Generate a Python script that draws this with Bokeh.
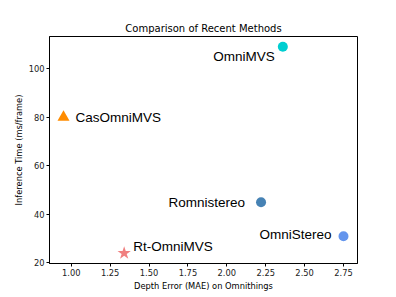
from bokeh.plotting import figure
from bokeh.models import ColumnDataSource, FixedTicker, Range1d, NumeralTickFormatter
from bokeh.core.properties import value
from bokeh.embed import file_html
from bokeh.resources import INLINE

# data
methods = ["OmniMVS", "CasOmniMVS", "Romnistereo", "OmniStereo", "Rt-OmniMVS"]
depth_error = [2.36, 0.95, 2.22, 2.75, 1.34]
inference_time = [109, 80, 45, 31, 24]
x_ticks = [1.00, 1.25, 1.50, 1.75, 2.00, 2.25, 2.50, 2.75]
y_ticks = [20, 40, 60, 80, 100]

# styles
colors = ["#00CED1", "#FF8C00", "#4682B4", "#6495ED", "#F08080"]
markers = ["circle", "triangle", "circle", "circle", "star"]
sizes = [10, 12, 10, 10, 14]
label_align = ["right", "left", "right", "right", "left"]
label_dx = [-8, 12, -16, -12, 9]
label_dy = [10, 0, 0, -2, -7]

src = ColumnDataSource(dict(x=depth_error, y=inference_time, name=methods, color=colors,
                            marker=markers, size=sizes, align=label_align,
                            dx=label_dx, dy=label_dy))

p = figure(frame_width=308, frame_height=227, output_backend="svg", toolbar_location=None,
           x_range=Range1d(0.86, 2.84), y_range=Range1d(19.75, 113.25),
           title="Comparison of Recent Methods",
           min_border_left=49, min_border_right=39, min_border_top=36, min_border_bottom=34)

p.scatter("x", "y", source=src, marker="marker", size="size", fill_color="color",
          line_color="color", line_width=0)
p.text("x", "y", text="name", source=src, x_offset="dx", y_offset="dy",
       text_align="align", text_baseline="middle", text_font=value("Liberation Sans"),
       text_font_size="13.5px", text_color="black")

p.title.align = "center"
p.title.text_font = "DejaVu Sans"
p.title.text_font_size = "10px"
p.title.text_font_style = "normal"
p.title.text_color = "black"
p.title.standoff = 6

p.xaxis.axis_label = "Depth Error (MAE) on Omnithings"
p.yaxis.axis_label = "Inference Time (ms/frame)"
p.xaxis.ticker = FixedTicker(ticks=x_ticks)
p.yaxis.ticker = FixedTicker(ticks=y_ticks)
p.xaxis.formatter = NumeralTickFormatter(format="0.00")
for ax in (p.xaxis, p.yaxis):
    ax.axis_label_text_font = "DejaVu Sans"
    ax.axis_label_text_font_size = "8.3px"
    ax.axis_label_text_font_style = "normal"
    ax.axis_label_text_color = "black"
    ax.axis_label_text_line_height = 1.0
    ax.major_label_text_font = "DejaVu Sans"
    ax.major_label_text_font_size = "8.3px"
    ax.major_label_text_color = "#222222"
    ax.major_label_text_line_height = 1.0
    ax.minor_tick_line_color = None
    ax.major_tick_out = 3
    ax.major_tick_in = 0
    ax.major_label_standoff = 2
    ax.axis_label_standoff = 2
    ax.axis_line_color = "black"
    ax.major_tick_line_color = "black"

p.xgrid.grid_line_color = None
p.ygrid.grid_line_color = None
p.outline_line_color = "black"
p.outline_line_width = 1
p.background_fill_color = "white"
p.border_fill_color = "white"

open("out.html", "w").write(file_html(p, INLINE))
